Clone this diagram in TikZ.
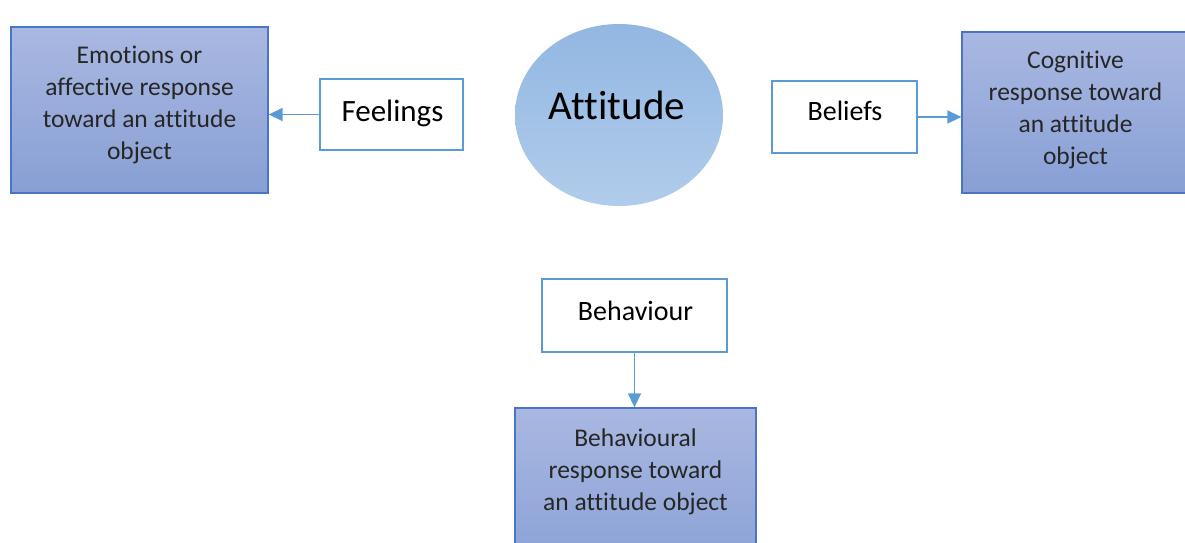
\documentclass[tikz,border=0pt]{standalone}
\usepackage{fontspec}
\setmainfont{Carlito}[Ligatures=NoCommon]
\usetikzlibrary{arrows.meta,shapes.geometric}

\definecolor{linkblue}{HTML}{5B9BD5}
\definecolor{boxedge}{HTML}{4A74C6}
\definecolor{boxtop}{HTML}{A9B8E1}
\definecolor{boxbot}{HTML}{889FD5}
\definecolor{ovaltop}{HTML}{92B7E2}
\definecolor{ovalbot}{HTML}{B1CCEB}
\definecolor{bodytext}{HTML}{262626}

\tikzset{
  respbox/.style={rectangle, draw=boxedge, line width=1.3pt,
    top color=boxtop, bottom color=boxbot, inner sep=0pt},
  keybox/.style={rectangle, draw=linkblue, line width=2.4pt, fill=white, inner sep=0pt},
  oval/.style={ellipse, draw=none, top color=ovaltop, bottom color=ovalbot, inner sep=0pt},
  % multi-line text sits on the baseline of its last line
  resptext/.style={anchor=base, align=center, inner sep=0pt, text=bodytext,
    font=\fontsize{25.5}{32}\selectfont},
  keytext/.style={anchor=base, inner sep=0pt, text=black},
  link/.style={draw=linkblue, line width=1.4pt, -{Triangle[length=14pt,width=13pt]}}
}

\begin{document}
\begin{tikzpicture}[x=1pt, y=-1pt]
  \useasboundingbox (0,0) rectangle (1185,543);
  \clip (0,0) rectangle (1185,543);

  % response boxes
  \node[respbox, minimum width=257pt, minimum height=166pt] (emo) at (139.5,110) {};
  \node[respbox, minimum width=227pt, minimum height=161pt] (cog) at (1075.5,112.5) {};
  \node[respbox, minimum width=241pt, minimum height=172pt] (beho) at (635.5,494) {};

  \node[resptext] (emotxt) at (139.5,159) {Emotions or\\affective response\\toward an attitude\\object};
  \node[resptext] (cogtxt) at (1075.5,164) {Cognitive\\response toward\\an attitude\\object};
  \node[resptext] (behotxt) at (635.5,510) {Behavioural\\response toward\\an attitude object};

  % component boxes
  \node[keybox, minimum width=143pt, minimum height=71pt] (feel) at (391.5,114.5) {};
  \node[keybox, minimum width=145pt, minimum height=72pt] (bel) at (844.5,117) {};
  \node[keybox, minimum width=185pt, minimum height=73pt] (beh) at (634.5,315.5) {};

  \node[keytext, font=\fontsize{31}{37}\selectfont] (feeltxt) at (392.5,121.7) {Feelings};
  \node[keytext, font=\fontsize{28}{34}\selectfont] (beltxt) at (845,120.7) {Beliefs};
  \node[keytext, font=\fontsize{28}{34}\selectfont] (behtxt) at (635.5,320) {Behaviour};

  % attitude
  \node[oval, minimum width=208pt, minimum height=182pt] (att) at (619,115) {};
  \node[keytext, font=\fontsize{41}{48}\selectfont] (atttxt) at (617,119) {Attitude};

  % connectors
  \draw[link] (feel.west) -- (feel.west -| emo.east);
  \draw[link] (bel.east) -- (bel.east -| cog.west);
  \draw[link] (beh.south) -- (beh.south |- beho.north);
\end{tikzpicture}
\end{document}
